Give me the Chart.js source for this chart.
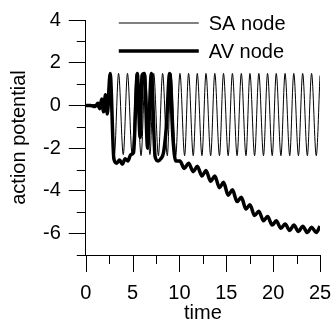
<!DOCTYPE html>
<html>
<head>
<meta charset="utf-8">
<script src="https://cdn.jsdelivr.net/npm/chart.js@4"></script>
<style>
  html, body { margin: 0; padding: 0; background: #fff; }
  #wrap { width: 333px; height: 323px; }
</style>
</head>
<body>
<div id="wrap"><canvas id="apChart"></canvas></div>
<script>
// SA node trace (time, potential)
const saTime = [0, 0.5, 1.0, 1.3, 1.6, 1.8, 2.0, 2.2,
  2.55, 3.05, 3.5, 4.0, 4.45, 4.95, 5.4, 5.9, 6.35, 6.85, 7.25, 7.75, 8.2, 8.7, 9.1, 9.6,
  10.05, 10.55, 10.97, 11.47, 11.9, 12.4, 12.83, 13.33, 13.77, 14.27, 14.7, 15.2, 15.65, 16.15,
  16.6, 17.1, 17.52, 18.02, 18.47, 18.97, 19.4, 19.9, 20.33, 20.83, 21.27, 21.77, 22.2, 22.7,
  23.15, 23.65, 24.1, 24.6, 25.0];
const saValue = [0, 0, 0.05, -0.1, 0.2, -0.2, 0.35, -0.3,
  1.5, -2.3, 1.5, -2.3, 1.5, -2.3, 1.5, -2.35, 1.5, -2.3, 1.5, -2.35, 1.5, -2.35, 1.5, -2.35,
  1.5, -2.35, 1.5, -2.35, 1.5, -2.35, 1.5, -2.35, 1.5, -2.35, 1.5, -2.35, 1.5, -2.35,
  1.5, -2.35, 1.5, -2.35, 1.5, -2.35, 1.5, -2.35, 1.5, -2.35, 1.5, -2.35, 1.5, -2.35,
  1.5, -2.35, 1.5, -2.35, 1.4];

// AV node trace
const avTime = [0, 0.5, 1.0, 1.3, 1.5, 1.7, 1.9, 2.1, 2.3, 2.6, 3.0, 3.3, 3.6, 3.9, 4.2, 4.5,
  4.8, 5.1, 5.5, 5.8, 6.0, 6.25, 6.6, 7.0, 7.4, 7.7, 8.0, 8.3, 8.6, 8.95, 9.3, 9.6,
  10.05, 10.5, 10.97, 11.47, 11.9, 12.4, 12.83, 13.33, 13.77, 14.27, 14.7, 15.2, 15.65, 16.15,
  16.6, 17.1, 17.52, 18.02, 18.47, 18.97, 19.4, 19.9, 20.33, 20.83, 21.27, 21.77, 22.2, 22.7,
  23.15, 23.65, 24.1, 24.6, 25.0];
const avValue = [0, 0, -0.05, 0.1, -0.15, 0.3, -0.3, 0.5, -0.4, 1.5, -2.5, -2.7, -2.55, -2.75, -2.5, -2.6,
  -2.3, -2.2, 1.5, -1.5, 1.4, 1.5, -2.0, 1.5, -2.4, -2.6, -2.5, -2.2, -1.0, 1.5, -1.5, -2.6,
  -2.6, -2.95, -2.7, -3.1, -2.85, -3.3, -3.05, -3.55, -3.3, -3.85, -3.6, -4.2, -3.95, -4.5,
  -4.3, -4.85, -4.65, -5.15, -4.95, -5.4, -5.2, -5.6, -5.4, -5.75, -5.55, -5.85, -5.6, -5.9,
  -5.65, -5.95, -5.7, -5.95, -5.65];

const xLabels = [0, 5, 10, 15, 20, 25];
const yLabels = [-6, -4, -2, 0, 2, 4];

const toPoints = (xs, ys) => xs.map((x, i) => ({ x: x, y: ys[i] }));

// x tick marks, y minor ticks + legend drawn by hand
const extras = {
  id: 'extras',
  afterDraw(chart) {
    const c = chart.ctx;
    const xs = chart.scales.x, ys = chart.scales.y;
    c.save();
    c.strokeStyle = '#000';
    c.lineWidth = 1;
    c.beginPath();
    xs.ticks.forEach(t => {
      const len = xLabels.includes(t.value) ? 17 : 9;
      const px = Math.round(xs.getPixelForValue(t.value)) + 0.5;
      c.moveTo(px, ys.bottom);
      c.lineTo(px, ys.bottom + len);
    });
    ys.ticks.forEach(t => {
      if (yLabels.includes(t.value)) return;
      const py = Math.round(ys.getPixelForValue(t.value)) + 0.5;
      c.moveTo(xs.left, py);
      c.lineTo(xs.left - 9, py);
    });
    c.stroke();

    // legend
    const x0 = xs.left + 33, x1 = xs.left + 113;
    const rows = [ys.top + 3, ys.top + 31];
    c.font = '20px "Liberation Sans", Arial, sans-serif';
    c.fillStyle = '#000';
    c.textBaseline = 'middle';
    chart.data.datasets.forEach((ds, i) => {
      c.lineWidth = ds.borderWidth;
      c.beginPath();
      c.moveTo(x0, rows[i]);
      c.lineTo(x1, rows[i]);
      c.stroke();
      c.fillText(ds.label, x1 + 10, rows[i] + 1);
    });
    c.restore();
  }
};

Chart.defaults.font.family = '"Liberation Sans", Arial, sans-serif';
Chart.defaults.font.size = 20;
Chart.defaults.color = '#000';

new Chart(document.getElementById('apChart'), {
  type: 'line',
  data: {
    datasets: [{
      label: 'SA node',
      data: toPoints(saTime, saValue),
      borderColor: '#000',
      borderWidth: 1,
      pointRadius: 0,
      cubicInterpolationMode: 'monotone',
      order: 1
    }, {
      label: 'AV node',
      data: toPoints(avTime, avValue),
      borderColor: '#000',
      borderWidth: 3.5,
      pointRadius: 0,
      cubicInterpolationMode: 'monotone',
      order: 2
    }]
  },
  options: {
    responsive: true,
    maintainAspectRatio: false,
    animation: false,
    layout: { padding: { top: 9, right: 13, left: 7, bottom: 0 } },
    plugins: { legend: { display: false }, tooltip: { enabled: false } },
    scales: {
      x: {
        type: 'linear', min: 0, max: 25,
        ticks: {
          stepSize: 2.5, autoSkip: false, maxRotation: 0, padding: 0,
          callback: v => xLabels.includes(v) ? String(v) : ''
        },
        grid: {
          drawOnChartArea: false, tickLength: 26,
          tickColor: 'rgba(0,0,0,0)'
        },
        border: { color: '#000', width: 1 },
        title: {
          display: true, text: 'time',
          font: { size: 20, lineHeight: 1 },
          padding: { top: -2, bottom: 0 }
        }
      },
      y: {
        min: -7, max: 4,
        ticks: {
          stepSize: 1, autoSkip: false, padding: 8,
          callback: v => yLabels.includes(v) ? String(v) : ''
        },
        grid: {
          drawOnChartArea: false, tickLength: 17,
          tickColor: ctx => yLabels.includes(ctx.tick.value) ? '#000' : 'rgba(0,0,0,0)'
        },
        border: { color: '#000', width: 1 },
        title: { display: true, text: 'action potential', padding: { top: 0, bottom: 4 } }
      }
    }
  },
  plugins: [extras]
});
</script>
</body>
</html>
